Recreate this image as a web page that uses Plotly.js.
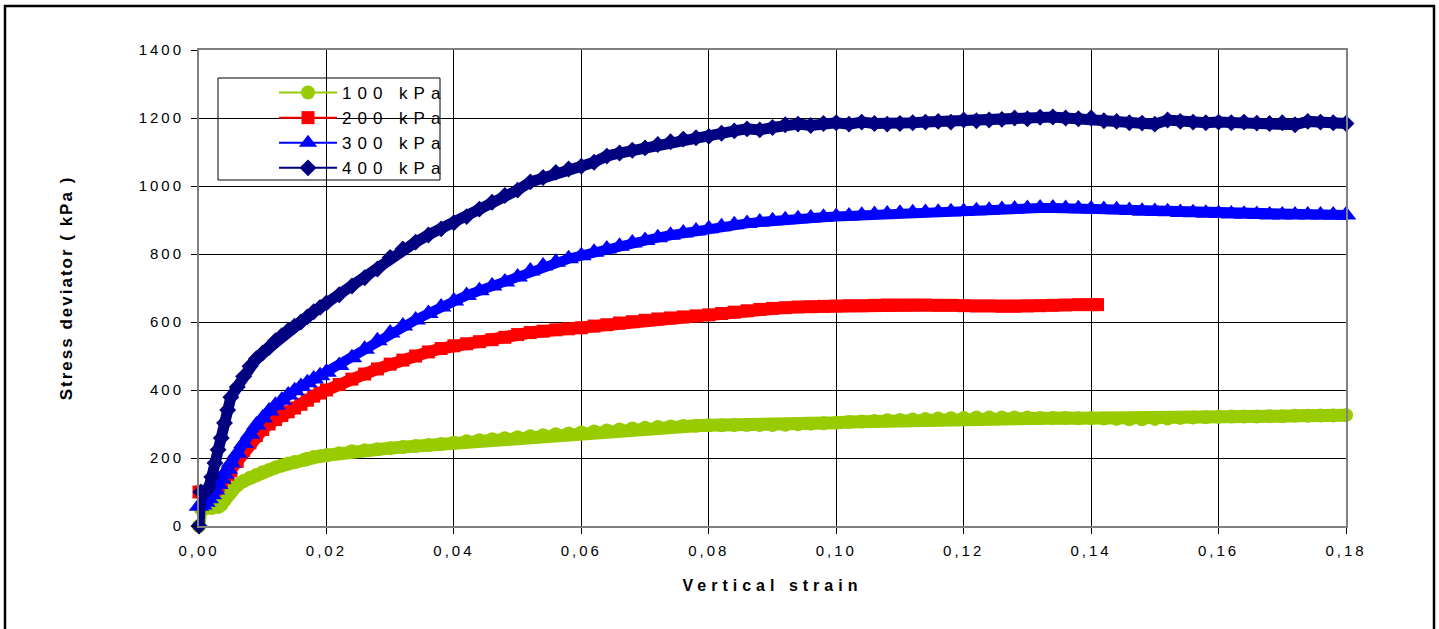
<!DOCTYPE html>
<html>
<head>
<meta charset="utf-8">
<script src="https://cdn.plot.ly/plotly-3.0.1.min.js"></script>
<style>
  html, body { margin: 0; padding: 0; background: #fff; }
  #chart { width: 1439px; height: 629px; }
  .xtick text, .ytick text { letter-spacing: 3px; }
  .legendtext { letter-spacing: 6px; }
  .xtitle { letter-spacing: 5px; }
  .ytitle { letter-spacing: 2px; }
</style>
</head>
<body>
<div id="chart"></div>
<script>
// ---------- data ----------
var strainTail = [0.022,0.024,0.026,0.028,0.030,0.032,0.034,0.036,0.038,0.040,
  0.042,0.044,0.046,0.048,0.050,0.052,0.054,0.056,0.058,0.060,
  0.062,0.064,0.066,0.068,0.070,0.072,0.074,0.076,0.078,0.080,
  0.082,0.084,0.086,0.088,0.090,0.092,0.094,0.096,0.098,0.100,
  0.102,0.104,0.106,0.108,0.110,0.112,0.114,0.116,0.118,0.120,
  0.122,0.124,0.126,0.128,0.130,0.132,0.134,0.136,0.138,0.140,
  0.142,0.144,0.146,0.148,0.150,0.152,0.154,0.156,0.158,0.160,
  0.162,0.164,0.166,0.168,0.170,0.172,0.174,0.176,0.178,0.180];

var strainEarly = [0,0.0005,0.001,0.0015,0.002,0.0025,0.003,0.0035,0.004,0.0045,0.005,
  0.006,0.007,0.008,0.009,0.010,0.011,0.012,0.013,0.014,0.015,0.016,0.017,0.018,0.019,0.020];

// 100 kPa
var strain100Early = [0,0.0003,0.001,0.002,0.003,0.0035,0.004,0.0045,0.005,0.006,0.007,0.008,
  0.009,0.010,0.011,0.012,0.013,0.014,0.015,0.0165,0.017,0.018,0.019,0.020];
var stress100 = [0,50,52,53,56,62,75,90,105,120,132,142,150,158,165,172,178,184,188,195,198,203,205,208,
  214,220,223,226,229,232,235,238,241,245,
  249,252,255,258,261,264,267,270,272,275,
  278,281,284,287,289,291,293,294,295,296,
  296,297,297,297,297,298,299,301,302,304,
  306,307,309,311,312,313,315,316,317,318,
  319,319,319,319,319,318,318,318,317,317,
  316,315,314,314,315,316,318,319,320,321,
  322,322,322,323,323,324,324,325,325,326];

// 200 kPa
var stress200 = [100,100,100,100,102,108,118,130,142,152,162,
  190,222,245,266,284,300,313,325,336,347,358,370,382,391,400,
  416,432,447,462,476,488,500,512,522,530,
  536,542,548,555,563,569,573,577,580,583,
  588,592,597,601,605,609,612,615,618,621,
  625,629,633,637,640,642,644,645,646,647,
  648,648,649,650,650,650,650,649,649,648,
  647,647,646,646,647,648,649,650,651,651,
  651];
var strain200End = [0.141];

// 300 kPa
var stress300 = [58,62,70,80,92,106,122,138,152,167,185,
  214,243,270,297,318,338,355,370,385,398,410,421,432,442,452,
  472,495,520,545,568,588,606,625,644,662,
  678,692,706,718,732,750,765,776,786,795,
  805,815,823,832,840,848,855,862,868,874,
  880,886,890,894,898,901,904,906,908,910,
  912,914,916,918,920,921,922,923,924,925,
  927,929,931,932,934,935,935,934,933,932,
  931,930,928,926,925,924,922,921,920,919,
  918,917,916,915,915,915,915,915,915,915];

// 400 kPa
var strain400Early = [0,0.0003,0.001,0.0015,0.002,0.0025,0.003,0.0035,0.004,0.0045,0.005,
  0.006,0.007,0.008,0.009,0.010,0.011,0.012,0.013,0.014,0.015,0.016,0.017,0.018,0.019,0.020];
var stress400 = [0,100,100,112,144,185,224,259,303,341,379,
  409,440,470,492,509,525,545,560,575,588,600,615,630,643,656,
  680,706,730,756,790,815,835,856,874,892,
  910,932,952,972,988,1012,1025,1040,1050,1058,
  1070,1088,1097,1105,1112,1122,1130,1138,1142,1146,
  1155,1162,1168,1165,1172,1180,1182,1178,1184,1186,
  1182,1188,1184,1182,1184,1186,1188,1190,1188,1194,
  1192,1194,1196,1200,1198,1202,1203,1200,1198,1200,
  1192,1190,1186,1185,1182,1194,1190,1188,1186,1188,
  1186,1188,1185,1184,1186,1180,1190,1188,1186,1184];

var seriesNames = ['100 kPa','200 kPa','300 kPa','400 kPa'];
var xTickLabels = ['0,00','0,02','0,04','0,06','0,08','0,10','0,12','0,14','0,16','0,18'];
var xTickVals = [0,0.02,0.04,0.06,0.08,0.10,0.12,0.14,0.16,0.18];
var yTickVals = [0,200,400,600,800,1000,1200,1400];

// ---------- build series ----------
var strain100 = strain100Early.concat(strainTail);
var strain200 = strainEarly.concat(strainTail.slice(0, 60)).concat(strain200End);
var strain300 = strainEarly.concat(strainTail);
var strain400 = strain400Early.concat(strainTail);

var styles = [
  {color:'#99CC00', symbol:'circle', size:14, band:13},
  {color:'#FF0000', symbol:'square', size:13, band:12},
  {color:'#0000FF', symbol:'triangle-up', size:18, band:10},
  {color:'#000080', symbol:'diamond', size:13, band:11}
];
var xs = [strain100, strain200, strain300, strain400];
var ys = [stress100, stress200, stress300, stress400];

var traces = [];
for (var i = 0; i < 4; i++) {
  traces.push({
    x: xs[i], y: ys[i], type:'scatter', mode:'lines',
    line:{color:styles[i].color, width:styles[i].band},
    showlegend:false, hoverinfo:'skip', cliponaxis:false
  });
  traces.push({
    x: xs[i], y: ys[i], type:'scatter', mode:'lines+markers', name: seriesNames[i],
    line:{color:styles[i].color, width:2},
    marker:{color:styles[i].color, symbol:styles[i].symbol, size:styles[i].size, line:{width:0}},
    cliponaxis:false
  });
}

function px2x(p){ return (p - 199) / 1147; }
function px2y(p){ return (526 - p) / 476; }

var FONT = 'Liberation Sans, Arial, sans-serif';

var layout = {
  width: 1439, height: 629,
  margin: {l:199, r:93, t:50, b:103, pad:0},
  paper_bgcolor:'#ffffff', plot_bgcolor:'#ffffff',
  separators: ', ',
  showlegend: true,
  font: {family: FONT, color:'#000'},
  xaxis: {
    range:[0,0.18], tickmode:'array', tickvals:xTickVals, ticktext:xTickLabels,
    showgrid:true, gridcolor:'#000000', gridwidth:1, zeroline:false,
    showline:true, linecolor:'#808080', linewidth:2, mirror:true,
    ticks:'outside', ticklen:6, tickcolor:'#000', tickwidth:1,
    tickfont:{family:FONT, size:15, color:'#000'},
    ticklabelstandoff: 4,
    title:{text:'Vertical strain', font:{family:FONT, size:16, color:'#000', weight:'bold'}, standoff:22},
    fixedrange:true
  },
  yaxis: {
    range:[0,1400], tickmode:'array', tickvals:yTickVals,
    showgrid:true, gridcolor:'#000000', gridwidth:1, zeroline:false,
    showline:true, linecolor:'#808080', linewidth:2, mirror:true,
    ticks:'outside', ticklen:6, tickcolor:'#000', tickwidth:1,
    tickfont:{family:FONT, size:15, color:'#000'},
    ticklabelstandoff: 4,
    title:{text:'Stress deviator ( kPa )', font:{family:FONT, size:17, color:'#000', weight:'bold'}, standoff:62},
    fixedrange:true
  },
  legend: {
    x: px2x(274), y: px2y(75), xanchor:'left', yanchor:'top',
    bgcolor:'rgba(0,0,0,0)', borderwidth:0,
    font:{family:FONT, size:17, color:'#000'},
    itemwidth: 58, tracegroupgap:0
  },
  shapes: [
    {type:'rect', xref:'paper', yref:'paper', x0:px2x(5), x1:px2x(1434), y0:px2y(660), y1:px2y(6),
     line:{color:'#000', width:2.5}, fillcolor:'rgba(0,0,0,0)', layer:'above'},
    {type:'rect', xref:'paper', yref:'paper', x0:px2x(218), x1:px2x(440), y0:px2y(180), y1:px2y(78),
     line:{color:'#000', width:1}, fillcolor:'#ffffff', layer:'between'}
  ]
};

Plotly.newPlot('chart', traces, layout, {displayModeBar:false, staticPlot:true});
</script>
</body>
</html>
